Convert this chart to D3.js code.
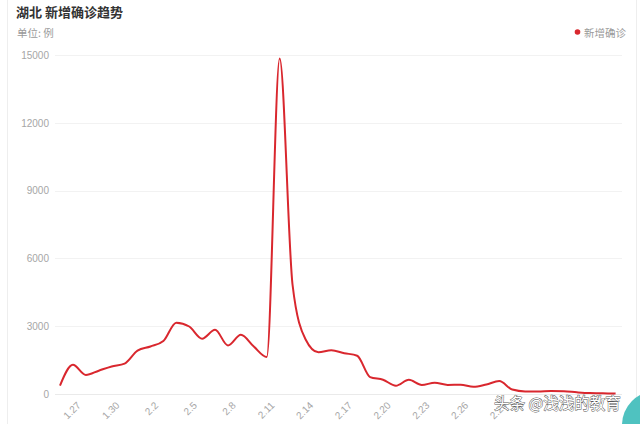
<!DOCTYPE html>
<html>
<head>
<meta charset="utf-8">
<script src="https://cdn.jsdelivr.net/npm/d3@7/dist/d3.min.js"></script>
<style>
  html, body { margin: 0; padding: 0; background: #fff; }
  svg { display: block; font-family: "Noto Sans CJK SC", "Noto Sans", sans-serif; }
</style>
</head>
<body>
<svg id="chart" width="640" height="424"></svg>
<script>
// ---- data ----
const categories = ["1.26","1.27","1.28","1.29","1.30","1.31","2.1","2.2","2.3","2.4","2.5","2.6","2.7","2.8","2.9","2.10","2.11","2.12","2.13","2.14","2.15","2.16","2.17","2.18","2.19","2.20","2.21","2.22","2.23","2.24","2.25","2.26","2.27","2.28","2.29","3.1","3.2","3.3","3.4","3.5","3.6","3.7","3.8","3.9"];
const newConfirmed = [371,1291,840,1032,1220,1347,1921,2103,2345,3156,2987,2447,2841,2147,2618,2097,1638,14840,4823,2420,1843,1933,1807,1693,750,631,366,630,398,499,401,409,318,423,570,196,114,115,134,126,74,41,36,17];
const xTickLabels = ["1.27","1.30","2.2","2.5","2.8","2.11","2.14","2.17","2.20","2.23","2.26","2.29"];
const yTicks = [0,3000,6000,9000,12000,15000];
const seriesName = "新增确诊";
const title = "湖北 新增确诊趋势";
const unitLabel = "单位: 例";
const watermark = "头条 @浅浅的教育";

// ---- drawing ----
const svg = d3.select("#chart");
const red = "#d9272e";

// card borders
svg.append("line").attr("x1",7.5).attr("x2",7.5).attr("y1",0).attr("y2",424).attr("stroke","#eeeeee");
svg.append("line").attr("x1",636.5).attr("x2",636.5).attr("y1",0).attr("y2",424).attr("stroke","#eeeeee");

const x = d3.scalePoint().domain(categories).range([60, 615.6]);
const y = d3.scaleLinear().domain([0, 15000]).range([394, 55]);

// grid + y labels
const gridG = svg.append("g");
gridG.selectAll("line").data(yTicks).join("line")
  .attr("x1", 55).attr("x2", 622)
  .attr("y1", d => Math.round(y(d)) + 0.5).attr("y2", d => Math.round(y(d)) + 0.5)
  .attr("stroke", d => d === 0 ? "#eaeaea" : "#f2f2f2").attr("stroke-width", 1);

const yAxis = d3.axisLeft(y).tickValues(yTicks).tickSize(0).tickPadding(0).tickFormat(d3.format("d"));
const yg = svg.append("g").attr("transform", "translate(49,0)").call(yAxis);
yg.select(".domain").remove();
yg.selectAll("text").attr("fill", "#a6a6a6").attr("font-size", 10).attr("font-family", "Liberation Sans, Arial, sans-serif");

// x axis labels
const xAxis = d3.axisBottom(x).tickValues(xTickLabels).tickSize(0).tickPadding(0);
const xg = svg.append("g").attr("transform", "translate(0,401)").call(xAxis);
xg.select(".domain").remove();
xg.selectAll("text")
  .attr("fill", "#a6a6a6").attr("font-size", 10).attr("font-family", "Liberation Sans, Arial, sans-serif")
  .attr("text-anchor", "end").attr("dy", "0.7em").attr("dx", "0")
  .attr("transform", "translate(3,0) rotate(-45)");

// line
const line = d3.line()
  .x((d, i) => x(categories[i]))
  .y(d => y(d))
  .curve(d3.curveMonotoneX);
svg.append("path").datum(newConfirmed)
  .attr("d", line).attr("fill", "none").attr("stroke", red).attr("stroke-width", 2);

// title & unit
svg.append("text").attr("x", 16).attr("y", 17).text(title)
  .attr("font-size", 13).attr("font-weight", "bold").attr("fill", "#333");
svg.append("text").attr("x", 17).attr("y", 37).text(unitLabel)
  .attr("font-size", 10.5).attr("fill", "#9a9a9a");

// legend
svg.append("circle").attr("cx", 577.5).attr("cy", 32).attr("r", 2.8).attr("fill", red);
svg.append("text").attr("x", 584).attr("y", 36.5).text(seriesName)
  .attr("font-size", 10.5).attr("fill", "#9a9a9a");

// watermark decoration
svg.append("circle").attr("cx", 656).attr("cy", 425).attr("r", 34).attr("fill", "#4fc2c0");
svg.append("text").attr("x", 494).attr("y", 409).text(watermark)
  .attr("font-size", 15.5).attr("fill", "#ffffff")
  .attr("stroke", "#555").attr("stroke-width", 0.9).attr("paint-order", "stroke");
</script>
</body>
</html>
